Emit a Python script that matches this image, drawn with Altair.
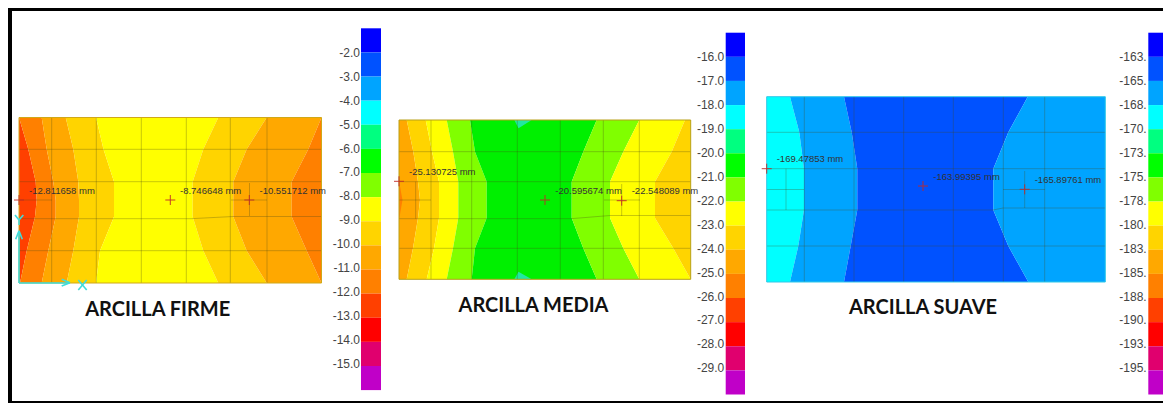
import altair as alt
import pandas as pd

# ---- palette of the contour legend, top to bottom
BAR_COLORS = ["#0000FF", "#0052FF", "#00A4FF", "#00FFFF", "#00FF80", "#00FF00", "#80FF00",
              "#FFFF00", "#FFD400", "#FFA800", "#FF8000", "#FF4000", "#FF0000", "#E0006E", "#C000C8"]
BLU, AZ, CY = "#0052FF", "#00A4FF", "#00FFFF"
GR, LG, YE, GO, AM, OR, RO = "#00F000", "#80FF00", "#FFFF00", "#FFD400", "#FFA800", "#FF8000", "#FF4000"

# ---- panel rectangles: left, right, top, bottom
RECTS = [(19, 321.5, 117.5, 283), (399, 690.7, 120, 279.3), (766.7, 1105.3, 96.7, 282)]
BORDER = ["#D0A818", "#B8A018", "#30C8E8"]

# ---- contour band edges: x of each edge at each y level
P1_Y = [117.5, 149.3, 181.7, 200, 216.7, 250.7, 283]
P1_E = [[19, 19, 19, 19, 19, 19, 19],
        [19, 28.3, 35.7, 36.7, 35, 26.7, 20],
        [41.7, 46.7, 53.3, 55.7, 55.7, 48.3, 41.7],
        [65.7, 73.3, 78.3, 79, 79, 73.3, 66.7],
        [96, 103.5, 114, 114, 114, 100, 96],
        [218.3, 203.3, 192.7, 192.7, 192.7, 203.3, 218.3],
        [266.7, 246.7, 233.3, 233.3, 233.3, 246.7, 266.7],
        [321.5, 308.3, 291.7, 291.7, 291.7, 306.7, 321.5],
        [321.5, 321.5, 321.5, 321.5, 321.5, 321.5, 321.5]]
P1_C = [RO, OR, AM, GO, YE, GO, AM, OR]

P2_Y = [120, 151.7, 181.7, 200, 218, 248.3, 279.3]
P2_E = [[399, 399, 399, 399, 399, 399, 399],
        [406.7, 413.3, 418, 420, 418, 413, 406.7],
        [425.7, 432, 439, 439, 439, 434, 426.7],
        [446.7, 453, 458.3, 458.3, 458.3, 453, 446.7],
        [470, 475, 486.7, 486.7, 486.7, 475, 471.7],
        [596.7, 583.3, 571.7, 571.7, 571.7, 583.3, 596.7],
        [639.3, 623.3, 610, 610, 610, 623.3, 639.3],
        [685, 671.7, 655, 655, 655, 673.3, 690.7],
        [690.7, 690.7, 690.7, 690.7, 690.7, 690.7, 690.7]]
P2_C = [AM, GO, YE, LG, GR, LG, YE, GO]

P3_Y = [96.7, 132.3, 168.7, 190, 210, 246, 282]
P3_E = [[766.7, 766.7, 766.7, 766.7, 766.7, 766.7, 766.7],
        [790, 799.3, 804, 804, 804, 798.3, 790],
        [844, 851.7, 857.3, 857.3, 857.3, 850.7, 844],
        [1027.7, 1008.3, 993.3, 993.3, 993.3, 1008.3, 1028.3],
        [1105.3, 1105.3, 1105.3, 1105.3, 1105.3, 1105.3, 1105.3]]
P3_C = [CY, AZ, BLU, AZ]

# small extra patches: (y levels, left edge, right edge, colour)
PATCHES = [([120, 128.3], [514.3, 518.5], [531.7, 518.5], "#20E8A0"),
           ([271.7, 279.3], [518.5, 514.3], [518.5, 531.7], "#20E8A0"),
           ([181, 200, 220], [399, 399, 399], [399, 402.5, 399], "#FF8000")]

# ---- mesh lines: x1, y1, x2, y2
MESH = [
    # panel 1
    (19, 149.3, 321.5, 149.3), (19, 181.7, 321.5, 181.7), (19, 218.7, 191, 218.7),
    (191, 218.7, 233, 216.5), (233, 216.5, 321.5, 216.5), (19, 250.7, 321.5, 250.7),
    (51.7, 117.5, 51.7, 283), (96.3, 117.5, 96.3, 283), (141.3, 117.5, 141.3, 283),
    (186.3, 117.5, 186.3, 283), (230.3, 117.5, 230.3, 283), (267, 117.5, 267, 283),
    (19, 200, 52, 200), (231, 200, 267, 200), (249.5, 183, 249.5, 216),
    # panel 2
    (399, 151.7, 690.7, 151.7), (399, 181.7, 690.7, 181.7), (399, 218.7, 571, 218.7),
    (571, 218.7, 610, 215.5), (610, 215.5, 690.7, 215.5), (399, 248.3, 690.7, 248.3),
    (431, 120, 431, 279.3), (471.7, 120, 471.7, 279.3), (517.3, 120, 517.3, 279.3),
    (560.3, 120, 560.3, 279.3), (603.3, 120, 603.3, 279.3), (639.3, 120, 639.3, 279.3),
    (415.7, 181.7, 415.7, 218.7), (399, 200, 431, 200), (604, 200, 640, 200), (621.7, 184, 621.7, 216),
    # panel 3
    (766.7, 132.3, 1105.3, 132.3), (766.7, 168.7, 1105.3, 168.7), (766.7, 210, 993, 210),
    (993, 210, 1003, 208), (1003, 208, 1105.3, 208), (766.7, 246, 1105.3, 246),
    (804.3, 96.7, 804.3, 282), (854, 96.7, 854, 282), (903.7, 96.7, 903.7, 282),
    (953.3, 96.7, 953.3, 282), (1003.3, 96.7, 1003.3, 282), (1044.7, 96.7, 1044.7, 282),
    (786, 168.7, 786, 210), (766.7, 189.5, 804, 189.5), (1003, 189.5, 1045, 189.5), (1024.7, 171, 1024.7, 208),
]

# ---- cyan local axes of panel 1
AXES = [(19, 283, 19, 232), (19, 283, 68, 283),
        (70, 282.7, 61.7, 279.3), (70, 282.7, 61.7, 286),
        (19, 230.7, 15.7, 239.3), (19, 230.7, 22.3, 239.3),
        (78.3, 280, 86.7, 290), (86.7, 280, 78.3, 290),
        (15, 215, 19, 220), (23.3, 215, 19, 220), (19, 220, 19, 225)]

# ---- displacement points
POINT_X = [19, 170.3, 249.3, 399, 545, 621.7, 766.7, 923, 1024.7]
POINT_Y = [200, 200, 200, 181.3, 200, 200.7, 168.7, 186, 189.3]
NOTE_TEXT = ["-12.811658 mm", "-8.746648 mm", "-10.551712 mm",
             "-25.130725 mm", "-20.595674 mm", "-22.548089 mm",
             "-169.47853 mm", "-163.99395 mm", "-165.89761 mm"]
NOTE_X = [29, 180, 259.5, 409, 555.3, 631.7, 776.7, 933.3, 1034.7]
NOTE_Y = [190.5, 190.5, 190.5, 172, 190.5, 191, 159, 176.7, 180]

# ---- titles
TITLES = ["ARCILLA FIRME", "ARCILLA MEDIA", "ARCILLA SUAVE"]
TITLE_X = [157.7, 533.5, 923]
TITLE_Y = [310, 306, 308]

# ---- colour bars
BAR_LABELS = [
    ["-2.0", "-3.0", "-4.0", "-5.0", "-6.0", "-7.0", "-8.0", "-9.0", "-10.0", "-11.0", "-12.0", "-13.0", "-14.0", "-15.0"],
    ["-16.0", "-17.0", "-18.0", "-19.0", "-20.0", "-21.0", "-22.0", "-23.0", "-24.0", "-25.0", "-26.0", "-27.0", "-28.0", "-29.0"],
    ["-163.", "-165.", "-168.", "-170.", "-173.", "-175.", "-178.", "-180.", "-183.", "-185.", "-188.", "-190.", "-193.", "-195."],
]
BAR_LEFT = [361, 725.7, 1148.3]
BAR_RIGHT = [381, 745, 1163]
BAR_TOP = [28.3, 32.7, 32.7]
BAR_STEP = 24.12
LABEL_X = [360, 724.3, 1146.7]
LABEL_TOP = [52.7, 57, 57]
LABEL_STEP = 23.95

# ---- frame: x1, x2, y1, y2
FRAME = [(8, 1163, 8, 11), (8, 12, 8, 403), (8, 1163, 401, 403)]

X = alt.X("x:Q", scale=alt.Scale(domain=[8, 1163], nice=False, zero=False), axis=None)
Y = alt.Y("y:Q", scale=alt.Scale(domain=[403, 8], nice=False, zero=False), axis=None)

# bands
rows = []
band = 0
for ys, edges, cols in [(P1_Y, P1_E, P1_C), (P2_Y, P2_E, P2_C), (P3_Y, P3_E, P3_C)]:
    for i, c in enumerate(cols):
        band += 1
        for j, yy in enumerate(ys):
            rows.append(dict(y=yy, x=edges[i][j], x2=edges[i + 1][j], c=c, band=band))
for ys, l, r, c in PATCHES:
    band += 1
    for j, yy in enumerate(ys):
        rows.append(dict(y=yy, x=l[j], x2=r[j], c=c, band=band))
bands = alt.Chart(pd.DataFrame(rows)).mark_area(orient="horizontal").encode(
    y=Y, x=X, x2=alt.X2("x2:Q"), fill=alt.Fill("c:N", scale=None), detail="band:N")

def seg_df(segs):
    return pd.DataFrame([dict(x=a, y=b, x2=c, y2=d) for a, b, c, d in segs])

mesh = alt.Chart(seg_df(MESH)).mark_rule(color="#4A4A18", strokeWidth=0.8, opacity=0.38).encode(
    x=X, y=Y, x2="x2:Q", y2="y2:Q")

borders = alt.Chart(pd.DataFrame(
    [dict(x=r[0], x2=r[1], y=r[2], y2=r[3], c=BORDER[i]) for i, r in enumerate(RECTS)]
)).mark_rect(fill=None, strokeWidth=1).encode(x=X, x2="x2:Q", y=Y, y2="y2:Q", stroke=alt.Color("c:N", scale=None))

axes = alt.Chart(seg_df(AXES)).mark_rule(color="#3FDCDC", strokeWidth=1.6).encode(
    x=X, y=Y, x2="x2:Q", y2="y2:Q")

crosses = alt.Chart(pd.DataFrame(dict(x=POINT_X, y=POINT_Y))).mark_point(
    shape="M-1,0L1,0M0,-1L0,1", size=100, filled=False, stroke="#C02A28", strokeWidth=1, opacity=0.9
).encode(x=X, y=Y)

notes = alt.Chart(pd.DataFrame(dict(x=NOTE_X, y=NOTE_Y, t=NOTE_TEXT))).mark_text(
    align="left", baseline="middle", font="Liberation Sans", fontSize=9.5, color="#333333"
).encode(x=X, y=Y, text="t:N")

titles = alt.Chart(pd.DataFrame(dict(x=TITLE_X, y=TITLE_Y, t=TITLES))).mark_text(
    align="center", baseline="middle", font="Lato", fontWeight="bold", fontSize=20, color="#111111"
).encode(x=X, y=Y, text="t:N")

bar_rows = []
label_rows = []
for b in range(3):
    for i, c in enumerate(BAR_COLORS):
        top = BAR_TOP[b] + BAR_STEP * i
        bar_rows.append(dict(x=BAR_LEFT[b], x2=BAR_RIGHT[b], y=top, y2=top + BAR_STEP, c=c))
    for i, t in enumerate(BAR_LABELS[b]):
        label_rows.append(dict(x=LABEL_X[b], y=LABEL_TOP[b] + LABEL_STEP * i, t=t))
bars = alt.Chart(pd.DataFrame(bar_rows)).mark_rect().encode(
    x=X, x2="x2:Q", y=Y, y2="y2:Q", color=alt.Color("c:N", scale=None))
labels = alt.Chart(pd.DataFrame(label_rows)).mark_text(
    align="right", baseline="middle", font="Liberation Sans", fontSize=12, color="#444444"
).encode(x=X, y=Y, text="t:N")

frame = alt.Chart(pd.DataFrame([dict(x=a, x2=b, y=c, y2=d) for a, b, c, d in FRAME])).mark_rect(color="#000000").encode(
    x=X, x2="x2:Q", y=Y, y2="y2:Q")

chart = alt.layer(bands, mesh, borders, axes, crosses, notes, titles, bars, labels, frame).properties(
    width=1155, height=395, padding=0, background="white",
    autosize=alt.AutoSizeParams(type="none")
).configure_view(stroke=None)

chart.save("out.html", embed_options={"renderer": "svg", "actions": False})
